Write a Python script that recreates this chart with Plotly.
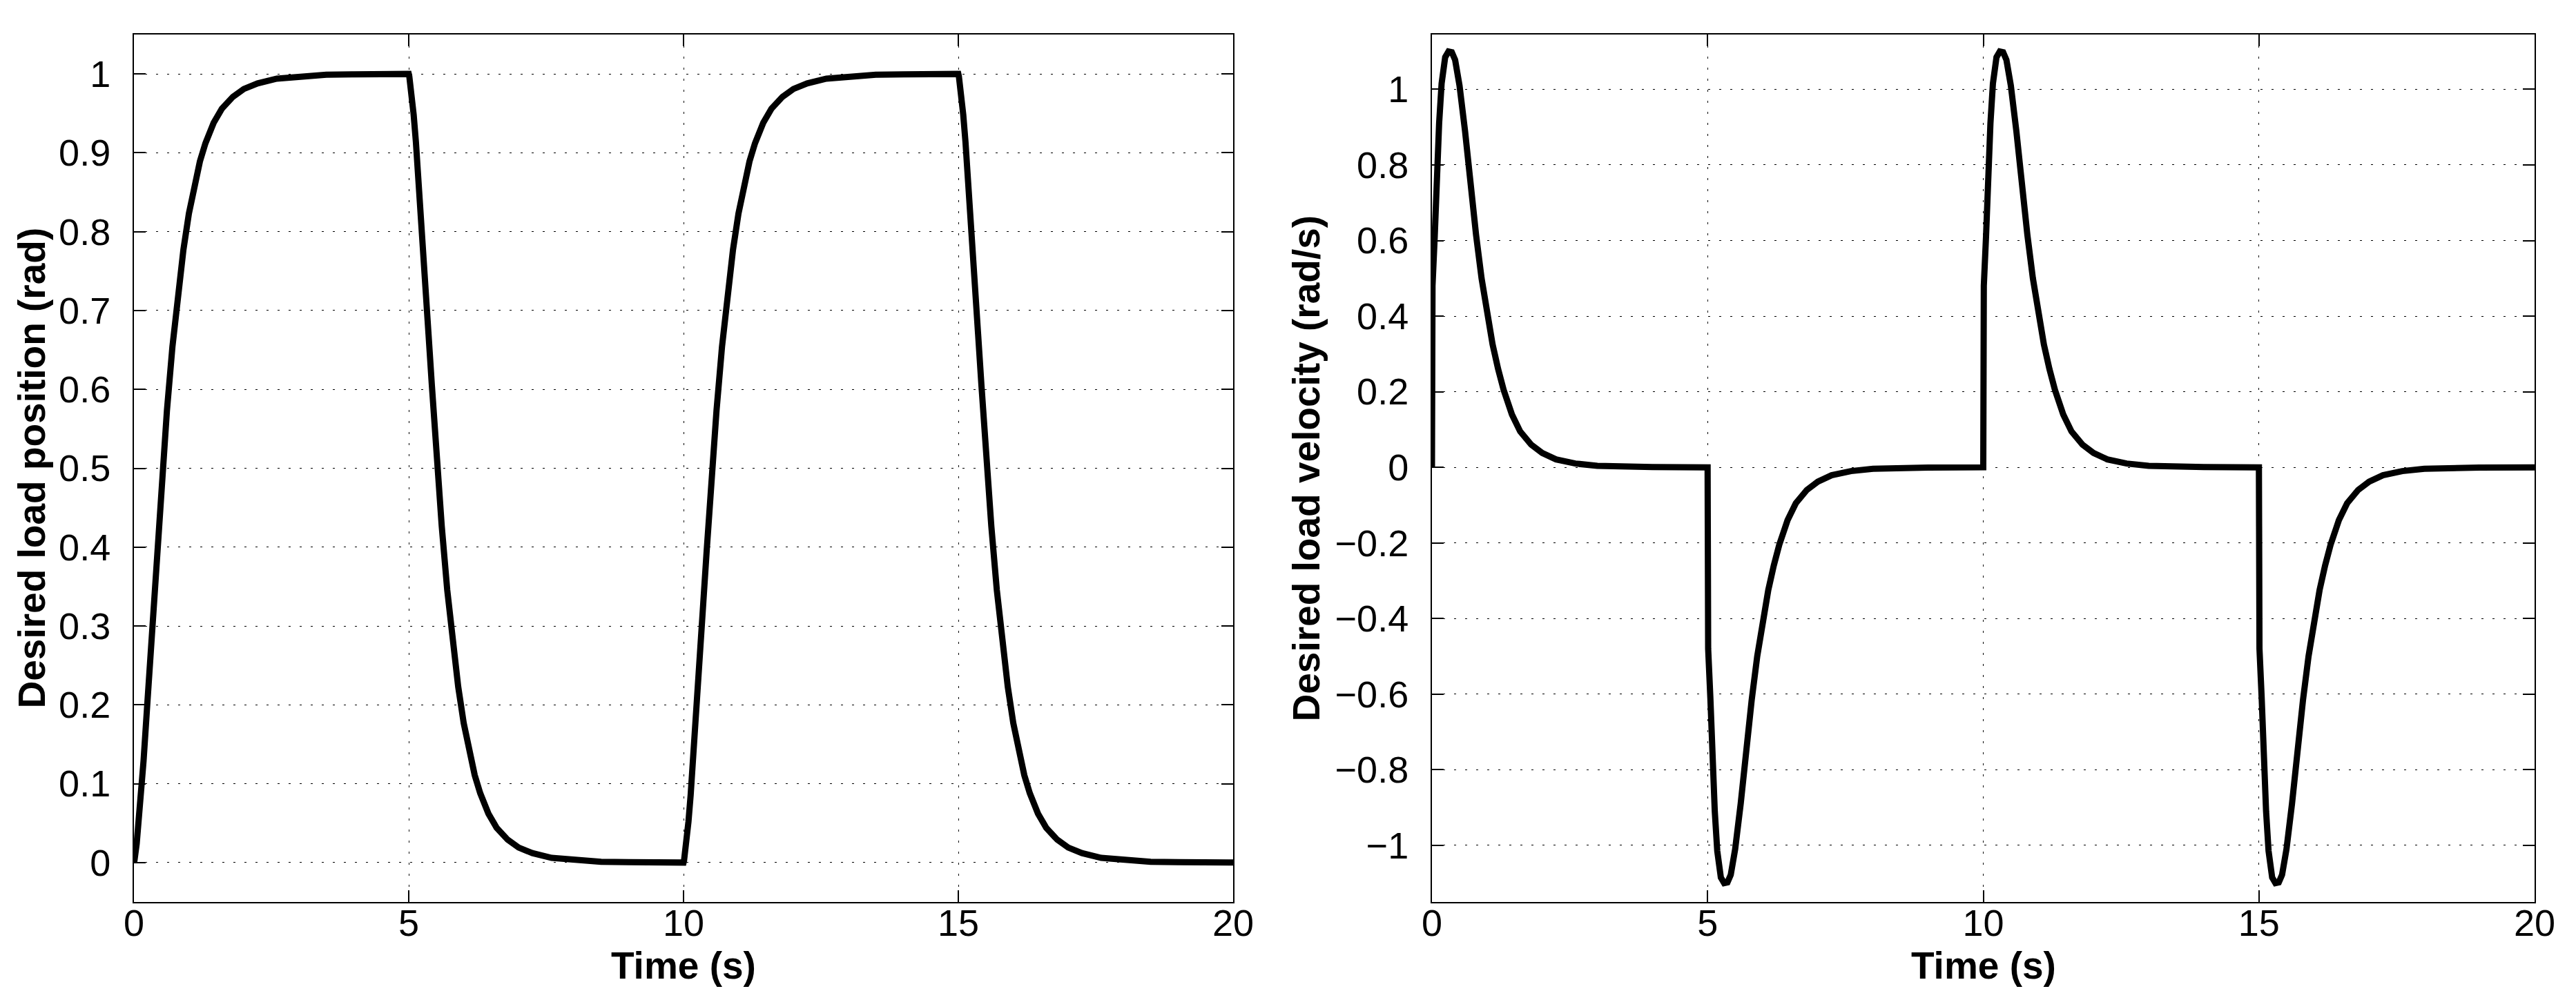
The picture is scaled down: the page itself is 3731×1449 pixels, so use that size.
import plotly.graph_objects as go

# time offsets inside each 5 s half period
seg_offsets = [0, 0.01, 0.05, 0.09, 0.13, 0.175, 0.24, 0.3, 0.36, 0.42, 0.5, 0.6, 0.7, 0.8,
               0.9, 1.0, 1.1, 1.2, 1.3, 1.45, 1.6, 1.8, 2.0, 2.25, 2.6, 3.0, 3.5, 4.0, 5.0]
seg_starts = [0, 5, 10, 15]

# desired load position (rad), one list per half period
pos_seg1 = [0, 0.003, 0.024, 0.052, 0.086, 0.129, 0.198, 0.264, 0.33, 0.394, 0.478, 0.573, 0.654, 0.722,
            0.777, 0.823, 0.860, 0.889, 0.912, 0.938, 0.956, 0.971, 0.981, 0.988, 0.994, 0.997, 0.999, 0.9995, 1.0]
pos_seg2 = [1.0, 0.997, 0.976, 0.948, 0.914, 0.871, 0.802, 0.736, 0.67, 0.606, 0.522, 0.427, 0.346, 0.278,
            0.223, 0.177, 0.140, 0.111, 0.088, 0.062, 0.044, 0.029, 0.019, 0.012, 0.006, 0.003, 0.001, 0.0005, 0]
pos_seg3 = [0, 0.003, 0.024, 0.052, 0.086, 0.129, 0.198, 0.264, 0.33, 0.394, 0.478, 0.573, 0.654, 0.722,
            0.777, 0.823, 0.860, 0.889, 0.912, 0.938, 0.956, 0.971, 0.981, 0.988, 0.994, 0.997, 0.999, 0.9995, 1.0]
pos_seg4 = [1.0, 0.997, 0.976, 0.948, 0.914, 0.871, 0.802, 0.736, 0.67, 0.606, 0.522, 0.427, 0.346, 0.278,
            0.223, 0.177, 0.140, 0.111, 0.088, 0.062, 0.044, 0.029, 0.019, 0.012, 0.006, 0.003, 0.001, 0.0005, 0]

# desired load velocity (rad/s)
vel_seg1 = [0, 0.48, 0.61, 0.79, 0.91, 1.015, 1.085, 1.10, 1.098, 1.078, 1.01, 0.89, 0.74, 0.615,
            0.50, 0.41, 0.325, 0.26, 0.205, 0.14, 0.095, 0.06, 0.038, 0.021, 0.010, 0.004, 0.0015, 0.0005, 0]
vel_seg2 = [0, -0.48, -0.61, -0.79, -0.91, -1.015, -1.085, -1.10, -1.098, -1.078, -1.01, -0.89, -0.74, -0.615,
            -0.50, -0.41, -0.325, -0.26, -0.205, -0.14, -0.095, -0.06, -0.038, -0.021, -0.010, -0.004, -0.0015, -0.0005, 0]
vel_seg3 = [0, 0.48, 0.61, 0.79, 0.91, 1.015, 1.085, 1.10, 1.098, 1.078, 1.01, 0.89, 0.74, 0.615,
            0.50, 0.41, 0.325, 0.26, 0.205, 0.14, 0.095, 0.06, 0.038, 0.021, 0.010, 0.004, 0.0015, 0.0005, 0]
vel_seg4 = [0, -0.48, -0.61, -0.79, -0.91, -1.015, -1.085, -1.10, -1.098, -1.078, -1.01, -0.89, -0.74, -0.615,
            -0.50, -0.41, -0.325, -0.26, -0.205, -0.14, -0.095, -0.06, -0.038, -0.021, -0.010, -0.004, -0.0015, -0.0005, 0]

x_ticks = [0, 5, 10, 15, 20]
x_title = "Time (s)"
y_titles = ["Desired load position (rad)", "Desired load velocity (rad/s)"]

t = [s + o for s in seg_starts for o in seg_offsets]
pos = pos_seg1 + pos_seg2 + pos_seg3 + pos_seg4
vel = vel_seg1 + vel_seg2 + vel_seg3 + vel_seg4

FONT = "Liberation Sans, Arial, Helvetica, sans-serif"
W, H = 3731, 1449
left_dom = [186 / W, 1778 / W]
right_dom = [2066 / W, 3663 / W]
y_dom = [1 - 1299 / H, 1 - 42 / H]

fig = go.Figure()
fig.add_trace(go.Scatter(x=t, y=pos, mode="lines", line=dict(color="black", width=9),
                         xaxis="x", yaxis="y", showlegend=False))
fig.add_trace(go.Scatter(x=t, y=vel, mode="lines", line=dict(color="black", width=9),
                         xaxis="x2", yaxis="y2", showlegend=False))

common = dict(
    showline=True, linecolor="black", linewidth=2, mirror="ticks",
    ticks="inside", ticklen=17, tickwidth=2, tickcolor="black",
    showgrid=True, gridcolor="black", gridwidth=1, griddash="3px,13px",
    zeroline=False, tickfont=dict(family=FONT, size=54, color="black"),
    automargin=False,
)
title_font = dict(family=FONT, size=55, color="black", weight="bold")

fig.update_layout(
    width=W, height=H,
    margin=dict(l=0, r=0, t=0, b=0),
    paper_bgcolor="white", plot_bgcolor="white",
    font=dict(family=FONT, color="black"),
    xaxis=dict(common, domain=left_dom, anchor="y", range=[0, 20], tickvals=x_ticks, ticklabelstandoff=-18),
    yaxis=dict(common, domain=y_dom, anchor="x", range=[-0.05, 1.05], dtick=0.1, tick0=0, ticklabelstandoff=21),
    xaxis2=dict(common, domain=right_dom, anchor="y2", range=[0, 20], tickvals=x_ticks, ticklabelstandoff=-18),
    yaxis2=dict(common, domain=y_dom, anchor="x2", range=[-1.15, 1.145], dtick=0.2, tick0=0, ticklabelstandoff=21),
)

# axis titles placed as annotations in figure coordinates
y_mid = (y_dom[0] + y_dom[1]) / 2
for dom in (left_dom, right_dom):
    fig.add_annotation(text=x_title, x=(dom[0] + dom[1]) / 2, y=1 - 1391 / H, xref="paper", yref="paper",
                       xanchor="center", yanchor="middle", showarrow=False, font=title_font)
fig.add_annotation(text=y_titles[0], x=38 / W, y=y_mid, xref="paper", yref="paper", textangle=-90,
                   xanchor="center", yanchor="middle", showarrow=False, font=title_font)
fig.add_annotation(text=y_titles[1], x=1884 / W, y=y_mid, xref="paper", yref="paper", textangle=-90,
                   xanchor="center", yanchor="middle", showarrow=False, font=title_font)

fig.write_html("out.html")
